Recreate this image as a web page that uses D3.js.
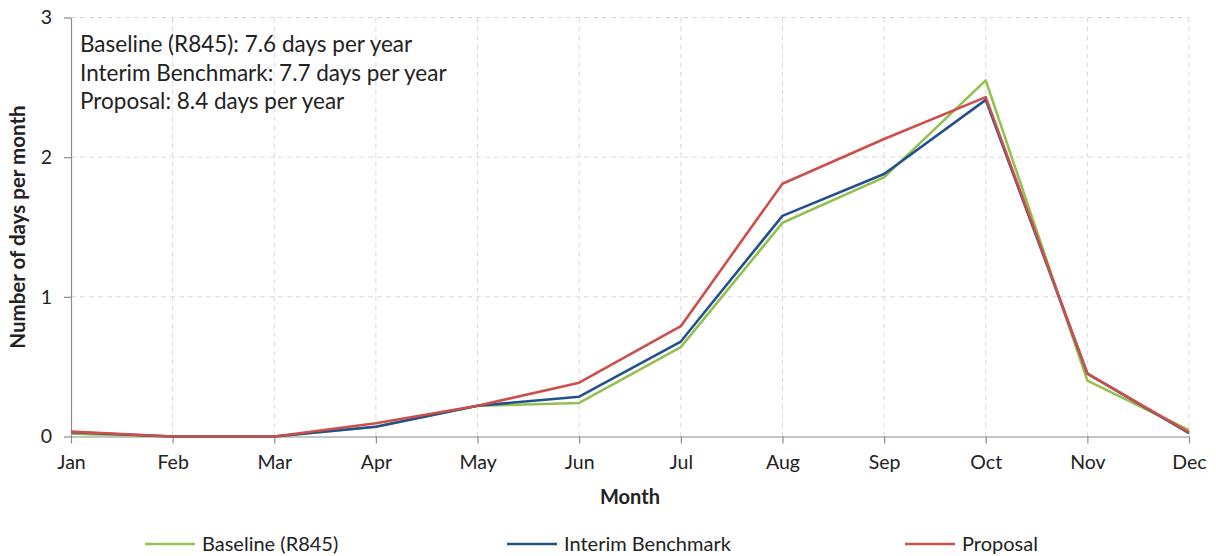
<!DOCTYPE html>
<html lang="en">
<head>
  <meta charset="UTF-8">
  <title>Days per month</title>
  <script src="https://d3js.org/d3.v7.min.js"></script>
  <style>
    body { margin: 0; background: #fff; }
    text { font-family: Lato, "Open Sans", sans-serif; fill: #222; }
    .grid line { stroke: #d9d9d9; stroke-dasharray: 5 4; stroke-width: 1px; }
    .axis path, .axis line { stroke: #8c8c8c; stroke-width: 1.2px; }
    .series { fill: none; stroke-width: 2.6px; stroke-linejoin: round; }
  </style>
</head>
<body>
  <svg width="1216" height="556"></svg>
  <script>
    // data
    const months = ["Jan", "Feb", "Mar", "Apr", "May", "Jun", "Jul", "Aug", "Sep", "Oct", "Nov", "Dec"];
    const baseline = [0.02, 0, 0, 0.07, 0.22, 0.24, 0.64, 1.53, 1.855, 2.55, 0.40, 0.045];
    const interim = [0.03, 0, 0, 0.07, 0.22, 0.285, 0.68, 1.58, 1.88, 2.41, 0.45, 0.025];
    const proposal = [0.035, 0, 0, 0.095, 0.22, 0.385, 0.79, 1.81, 2.13, 2.43, 0.45, 0.03];
    const seriesNames = ["Baseline (R845)", "Interim Benchmark", "Proposal"];
    const seriesColors = ["#93c04e", "#23508e", "#cc4f4c"];
    const notes = [
      "Baseline (R845): 7.6 days per year",
      "Interim Benchmark: 7.7 days per year",
      "Proposal: 8.4 days per year"
    ];
    const yTicks = [0, 1, 2, 3];

    const svg = d3.select("svg");
    const mLeft = 71, mRight = 1189, mTop = 17.5, mBottom = 436.5;

    const x = d3.scalePoint().domain(months).range([mLeft, mRight]);
    const y = d3.scaleLinear().domain([0, 3]).range([mBottom, mTop]);

    // grid lines
    const grid = svg.append("g").attr("class", "grid");
    grid.selectAll(".h").data(yTicks.slice(1)).enter().append("line")
      .attr("x1", mLeft).attr("x2", mRight)
      .attr("y1", d => y(d)).attr("y2", d => y(d));
    grid.selectAll(".v").data(months.slice(1)).enter().append("line")
      .attr("x1", d => x(d)).attr("x2", d => x(d))
      .attr("y1", mTop).attr("y2", mBottom);

    // axes
    const xAxis = svg.append("g").attr("class", "axis")
      .attr("transform", `translate(0,${mBottom})`)
      .call(d3.axisBottom(x).tickSizeInner(7).tickSizeOuter(0).tickPadding(12));
    xAxis.selectAll("text").style("font-size", "19.5px");

    const yAxis = svg.append("g").attr("class", "axis")
      .attr("transform", `translate(${mLeft},0)`)
      .call(d3.axisLeft(y).tickValues(yTicks).tickFormat(d3.format("d")).tickSizeInner(7).tickSizeOuter(0).tickPadding(12));
    yAxis.selectAll("text").style("font-size", "19.5px");

    // axis titles
    svg.append("text")
      .attr("x", (mLeft + mRight) / 2).attr("y", 504)
      .attr("text-anchor", "middle")
      .style("font-size", "20px").style("font-weight", "bold")
      .text("Month");
    svg.append("text")
      .attr("transform", `translate(25,${(mTop + mBottom) / 2}) rotate(-90)`)
      .attr("text-anchor", "middle")
      .style("font-size", "20.5px").style("font-weight", "bold")
      .text("Number of days per month");

    // lines
    const line = d3.line().x((d, i) => x(months[i])).y(d => y(d));
    [baseline, interim, proposal].forEach((vals, i) => {
      svg.append("path").attr("class", "series")
        .attr("stroke", seriesColors[i])
        .attr("d", line(vals));
    });

    // annotation text
    svg.selectAll(".note").data(notes).enter().append("text")
      .attr("class", "note")
      .attr("x", 80).attr("y", (d, i) => 52 + i * 28.5)
      .style("font-size", "22.5px")
      .text(d => d);

    // legend
    const legendX = [145, 507, 905];
    const legend = svg.selectAll(".legend").data(seriesNames).enter().append("g")
      .attr("transform", (d, i) => `translate(${legendX[i]},544)`);
    legend.append("line")
      .attr("x1", 0).attr("x2", 50)
      .attr("stroke", (d, i) => seriesColors[i]).attr("stroke-width", 2.6);
    legend.append("text")
      .attr("x", 57).attr("dy", "0.35em")
      .style("font-size", "20px")
      .text(d => d);
  </script>
</body>
</html>
